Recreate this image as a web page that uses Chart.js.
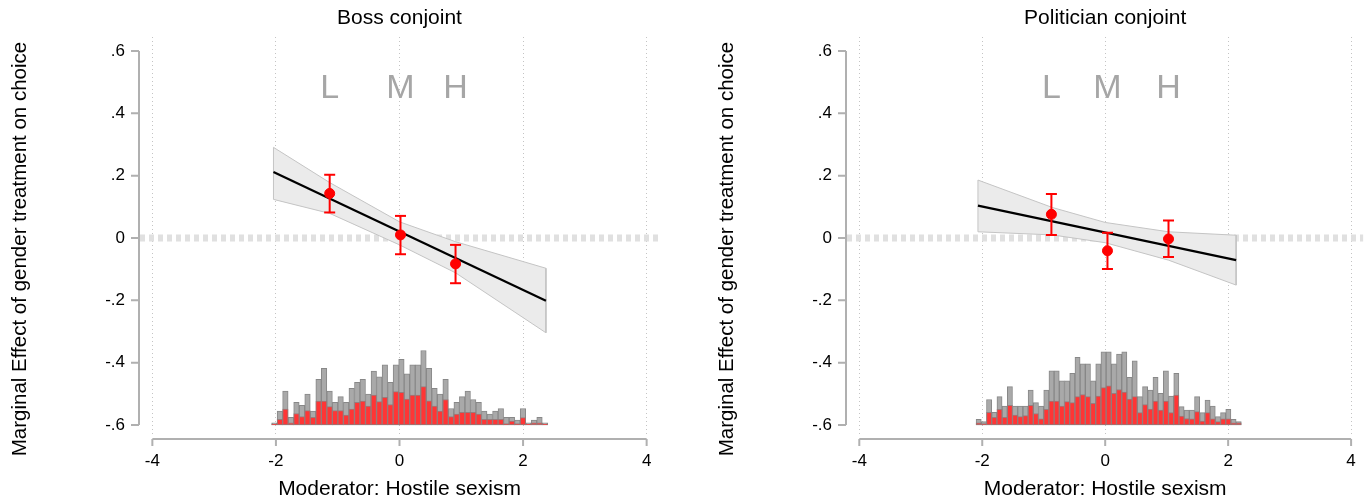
<!DOCTYPE html>
<html lang="en">
<head>
<meta charset="UTF-8">
<title>Marginal effect by hostile sexism</title>
<style>
    body {
        margin: 0;
        width: 1372px;
        height: 502px;
        overflow: hidden;
        position: relative;
        background: #fff;
    }
    canvas { position: absolute; top: 0; }
    #boss { left: 0; }
    #pol { left: 707px; }
</style>
</head>
<body>
<canvas id="boss" width="700" height="502"></canvas>
<canvas id="pol" width="665" height="502"></canvas>

<script src="https://cdn.jsdelivr.net/npm/chart.js"></script>
<script>
const xTicks = [-4, -2, 0, 2, 4];
const yTicks = [-0.6, -0.4, -0.2, 0, 0.2, 0.4, 0.6];
const binLabels = ['L', 'M', 'H'];
const binLabelY = 0.48;
const histBase = -0.6;

// Boss conjoint
const bossPointX = [-1.13, 0.016, 0.907];
const bossPointY = [0.143, 0.010, -0.083];
const bossCiLow = [0.082, -0.052, -0.145];
const bossCiHigh = [0.203, 0.071, -0.022];
const bossFitX = [-2.04, 2.37];
const bossFitY = [0.212, -0.201];
const bossBandX = [-2.04, -1.13, 0, 0.91, 2.37];
const bossBandHigh = [0.291, 0.178, 0.052, -0.012, -0.097];
const bossBandLow = [0.124, 0.079, -0.022, -0.112, -0.304];
const bossHistX = [-2.025, -1.936, -1.847, -1.757, -1.668, -1.578, -1.489, -1.400, -1.310, -1.221,
    -1.131, -1.042, -0.953, -0.863, -0.774, -0.684, -0.595, -0.506, -0.416, -0.327,
    -0.237, -0.148, -0.059, 0.031, 0.120, 0.210, 0.299, 0.388, 0.478, 0.567,
    0.657, 0.746, 0.835, 0.925, 1.014, 1.104, 1.193, 1.282, 1.372, 1.461,
    1.551, 1.640, 1.729, 1.819, 1.908, 1.998, 2.087, 2.176, 2.266, 2.355];
const bossHistAll = [0.007, 0.045, 0.109, 0.025, 0.073, 0.063, 0.099, 0.045, 0.147, 0.182,
    0.109, 0.073, 0.091, 0.073, 0.118, 0.137, 0.147, 0.099, 0.173, 0.155,
    0.193, 0.137, 0.193, 0.211, 0.164, 0.193, 0.193, 0.239, 0.182, 0.118,
    0.099, 0.147, 0.053, 0.073, 0.091, 0.109, 0.082, 0.073, 0.045, 0.035,
    0.045, 0.053, 0.025, 0.025, 0.016, 0.053, 0.007, 0.016, 0.025, 0.007];
const bossHistSub = [0.003, 0.018, 0.051, 0.007, 0.037, 0.027, 0.046, 0.025, 0.077, 0.077,
    0.059, 0.046, 0.046, 0.032, 0.051, 0.073, 0.077, 0.061, 0.096, 0.075,
    0.089, 0.066, 0.107, 0.105, 0.083, 0.096, 0.096, 0.123, 0.078, 0.061,
    0.045, 0.082, 0.027, 0.035, 0.041, 0.041, 0.041, 0.035, 0.018, 0.018,
    0.018, 0.018, 0.005, 0.013, 0.005, 0.024, 0.003, 0.007, 0.007, 0.003];

// Politician conjoint
const polPointX = [-0.875, 0.037, 1.03];
const polPointY = [0.076, -0.041, -0.003];
const polCiLow = [0.010, -0.099, -0.061];
const polCiHigh = [0.141, 0.017, 0.056];
const polFitX = [-2.07, 2.13];
const polFitY = [0.104, -0.071];
const polBandX = [-2.07, -0.86, 0, 1.03, 2.13];
const polBandHigh = [0.186, 0.098, 0.050, 0.020, 0.009];
const polBandLow = [0.020, 0.010, -0.015, -0.071, -0.151];
const polHistX = [-2.058, -1.973, -1.889, -1.804, -1.719, -1.635, -1.550, -1.466, -1.381, -1.296,
    -1.212, -1.127, -1.043, -0.958, -0.873, -0.789, -0.704, -0.620, -0.535, -0.450,
    -0.366, -0.281, -0.197, -0.112, -0.027, 0.057, 0.142, 0.226, 0.311, 0.396,
    0.480, 0.565, 0.649, 0.734, 0.819, 0.903, 0.988, 1.072, 1.157, 1.242,
    1.326, 1.411, 1.495, 1.580, 1.665, 1.749, 1.834, 1.918, 2.003, 2.088, 2.172];
const polHistAll = [0.018, 0.011, 0.082, 0.041, 0.091, 0.061, 0.123, 0.061, 0.061, 0.061,
    0.112, 0.072, 0.061, 0.112, 0.174, 0.174, 0.142, 0.142, 0.166, 0.217,
    0.196, 0.196, 0.142, 0.196, 0.235, 0.235, 0.196, 0.228, 0.235, 0.153,
    0.206, 0.091, 0.123, 0.112, 0.153, 0.102, 0.174, 0.093, 0.166, 0.059,
    0.048, 0.048, 0.091, 0.040, 0.080, 0.061, 0.027, 0.040, 0.050, 0.018, 0.011];
const polHistSub = [0.007, 0.005, 0.041, 0.025, 0.050, 0.025, 0.063, 0.032, 0.027, 0.030,
    0.063, 0.037, 0.020, 0.050, 0.077, 0.077, 0.061, 0.075, 0.072, 0.091,
    0.098, 0.091, 0.070, 0.093, 0.120, 0.126, 0.102, 0.114, 0.106, 0.083,
    0.091, 0.040, 0.066, 0.051, 0.077, 0.048, 0.077, 0.040, 0.096, 0.029,
    0.021, 0.020, 0.043, 0.013, 0.040, 0.020, 0.011, 0.020, 0.020, 0.007, 0.007];

const FONT = '"Liberation Sans", Arial, Helvetica, sans-serif';
Chart.defaults.font.family = FONT;
Chart.defaults.color = '#000';

function fmtY(v) {
    if (Math.abs(v) < 1e-9) return '0';
    return (v < 0 ? '-' : '') + Math.abs(v).toFixed(1).replace(/^0/, '');
}

// stata-style axes, titles and L/M/H labels
const decor = {
    id: 'decor',
    afterDraw(chart, args, opts) {
        const ctx = chart.ctx, x = chart.scales.x, y = chart.scales.y, area = chart.chartArea;
        ctx.save();
        ctx.strokeStyle = '#b0b0b0';
        ctx.lineWidth = 2;
        ctx.beginPath();
        const ax = area.left - 1;
        ctx.moveTo(ax, y.getPixelForValue(yTicks[0]));
        ctx.lineTo(ax, y.getPixelForValue(yTicks[yTicks.length - 1]));
        yTicks.forEach(v => {
            const p = y.getPixelForValue(v);
            ctx.moveTo(ax - 8, p);
            ctx.lineTo(ax, p);
        });
        const ay = area.bottom + 4;
        ctx.moveTo(x.getPixelForValue(xTicks[0]), ay);
        ctx.lineTo(x.getPixelForValue(xTicks[xTicks.length - 1]), ay);
        xTicks.forEach(v => {
            const p = x.getPixelForValue(v);
            ctx.moveTo(p, ay);
            ctx.lineTo(p, ay + 7);
        });
        ctx.stroke();

        ctx.fillStyle = '#000';
        ctx.textAlign = 'center';
        ctx.textBaseline = 'middle';
        ctx.font = '21px ' + FONT;
        ctx.fillText(opts.title, x.getPixelForValue(0), 18);
        ctx.fillText('Moderator: Hostile sexism', x.getPixelForValue(0), 489);
        ctx.save();
        ctx.translate(20, 249);
        ctx.rotate(-Math.PI / 2);
        ctx.font = '20.5px ' + FONT;
        ctx.fillText('Marginal Effect of gender treatment on choice', 0, 0);
        ctx.restore();

        ctx.fillStyle = '#a6a6a6';
        ctx.font = '34px ' + FONT;
        opts.labelX.forEach((v, i) => {
            ctx.fillText(binLabels[i], x.getPixelForValue(v), y.getPixelForValue(binLabelY));
        });
        ctx.restore();
    }
};

function pts(xs, ys) {
    return xs.map((v, i) => ({ x: v, y: ys[i] }));
}

function makePanel(id, title, p) {
    const el = document.getElementById(id);
    const outline = pts(p.bandX, p.bandHigh)
        .concat(pts(p.bandX, p.bandLow).reverse())
        .concat([{ x: p.bandX[0], y: p.bandHigh[0] }]);

    const datasets = [
        {   // band upper edge, filled down to the next dataset
            type: 'line', data: pts(p.bandX, p.bandHigh), borderWidth: 0,
            backgroundColor: '#ebebeb', fill: '+1', pointRadius: 0, order: 4
        },
        {
            type: 'line', data: pts(p.bandX, p.bandLow), borderWidth: 0,
            pointRadius: 0, fill: false, order: 4
        },
        {
            type: 'line', data: outline, borderColor: '#c4c4c4', borderWidth: 1,
            pointRadius: 0, fill: false, order: 3
        },
        {
            type: 'line', data: [{ x: -4.2, y: 0 }, { x: 4.2, y: 0 }],
            borderColor: '#e0e0e0', borderWidth: 7, borderDash: [5, 4],
            borderCapStyle: 'butt', pointRadius: 0, fill: false, order: 5
        },
        {
            type: 'line', data: pts(p.fitX, p.fitY), borderColor: '#000',
            borderWidth: 2.2, pointRadius: 0, fill: false, order: 2
        },
        {
            type: 'line', data: pts(p.pointX, p.pointY), showLine: false,
            pointRadius: 5, pointBackgroundColor: '#ff0000', pointBorderColor: '#ff0000',
            pointBorderWidth: 1, order: 0
        },
        {
            type: 'bar', data: p.histX.map((v, i) => ({ x: v, y: [histBase, histBase + p.histAll[i]] })),
            backgroundColor: '#a9a9a9', borderColor: '#888888', borderWidth: 1,
            borderSkipped: false, barPercentage: 1, categoryPercentage: 1,
            grouped: false, order: 7
        },
        {
            type: 'bar', data: p.histX.map((v, i) => ({ x: v, y: [histBase, histBase + p.histSub[i]] })),
            backgroundColor: '#ff3535', borderColor: 'rgba(150,120,120,0.9)', borderWidth: 1,
            borderSkipped: false, barPercentage: 1, categoryPercentage: 1,
            grouped: false, order: 6
        }
    ];
    // confidence intervals with caps
    p.pointX.forEach((v, i) => {
        datasets.push({
            type: 'line', data: [{ x: v, y: p.ciLow[i] }, { x: v, y: p.ciHigh[i] }],
            borderColor: '#ff0000', borderWidth: 2, pointStyle: 'line', pointRadius: 5.5,
            pointBorderColor: '#ff0000', pointBorderWidth: 2, fill: false, order: 1
        });
    });

    return new Chart(el, {
        type: 'line',
        data: { datasets },
        options: {
            responsive: false,
            animation: false,
            layout: { padding: { top: 37, right: el.width - 659, left: 0, bottom: 0 } },
            plugins: {
                legend: { display: false },
                tooltip: { enabled: false },
                decor: { title: title, labelX: p.pointX }
            },
            scales: {
                x: {
                    type: 'linear', min: -4.2, max: 4.2, offset: false,
                    afterBuildTicks: s => { s.ticks = xTicks.map(v => ({ value: v })); },
                    afterFit: s => { s.height = 67; },
                    grid: { color: '#c4c4c4', lineWidth: 1, drawTicks: false, offset: false },
                    border: { display: false, dash: [1, 3] },
                    ticks: { padding: 16, autoSkip: false, maxRotation: 0, font: { size: 17 }, callback: v => String(v) }
                },
                y: {
                    min: -0.632, max: 0.645,
                    afterBuildTicks: s => { s.ticks = yTicks.map(v => ({ value: v })); },
                    afterFit: s => { s.width = 140; },
                    grid: { display: false, drawTicks: false },
                    border: { display: false },
                    ticks: { padding: 15, autoSkip: false, font: { size: 17 }, callback: v => fmtY(v) }
                }
            }
        },
        plugins: [decor]
    });
}

makePanel('boss', 'Boss conjoint', {
    pointX: bossPointX, pointY: bossPointY, ciLow: bossCiLow, ciHigh: bossCiHigh,
    fitX: bossFitX, fitY: bossFitY, bandX: bossBandX, bandHigh: bossBandHigh, bandLow: bossBandLow,
    histX: bossHistX, histAll: bossHistAll, histSub: bossHistSub
});
makePanel('pol', 'Politician conjoint', {
    pointX: polPointX, pointY: polPointY, ciLow: polCiLow, ciHigh: polCiHigh,
    fitX: polFitX, fitY: polFitY, bandX: polBandX, bandHigh: polBandHigh, bandLow: polBandLow,
    histX: polHistX, histAll: polHistAll, histSub: polHistSub
});
</script>
</body>
</html>
